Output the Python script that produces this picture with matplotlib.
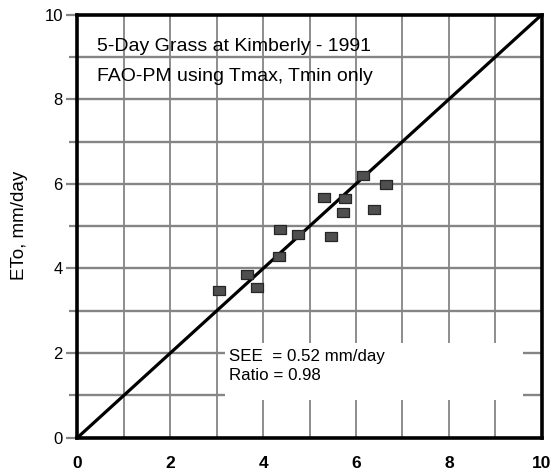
import matplotlib
matplotlib.use("Agg")
import matplotlib.pyplot as plt
import numpy as np
from matplotlib.patches import Rectangle

# ── Data ──
ETO_X = [3.05, 3.66, 3.86, 4.34, 4.36, 4.75, 5.47, 5.31, 5.77, 5.71, 6.39, 6.16, 6.64]
ETO_Y = [3.49, 3.87, 3.57, 4.30, 4.93, 4.82, 4.78, 5.70, 5.66, 5.33, 5.40, 6.21, 5.99]
ONE_TO_ONE = [0, 10]
X_TICKS = [0, 2, 4, 6, 8, 10]
Y_TICKS = [0, 2, 4, 6, 8, 10]
GRID_STEPS = [1, 2, 3, 4, 5, 6, 7, 8, 9]

TITLE_LINES = ["5-Day Grass at Kimberly - 1991", "FAO-PM using Tmax, Tmin only"]
STAT_LINES = ["SEE  = 0.52 mm/day", "Ratio = 0.98"]
Y_LABEL = "ETo, mm/day"

plt.rcParams["font.family"] = ["Liberation Sans", "DejaVu Sans"]

GRID = "#858585"

fig = plt.figure(figsize=(5.53, 4.76), dpi=100)
ax = fig.add_axes([0.140, 0.0805, 0.8396, 0.8886])
ax.set_xlim(0, 10)
ax.set_ylim(0, 10)

# grid lines (drawn as lines so the stats box can cover part of them)
for v in GRID_STEPS:
    ax.axvline(v, color=GRID, lw=1.3, zorder=1)
    ax.axhline(v, color=GRID, lw=1.7, zorder=1)

# white box behind the statistics
ax.add_patch(Rectangle((3.18, 0.89), 6.42, 1.34, facecolor="white",
                       edgecolor="none", zorder=2))

ax.plot(ONE_TO_ONE, ONE_TO_ONE, color="black", lw=2.3, zorder=3,
        solid_capstyle="butt")

rect = [(-1, -0.72), (1, -0.72), (1, 0.72), (-1, 0.72), (-1, -0.72)]
ax.plot(ETO_X, ETO_Y, linestyle="none", marker=rect, markersize=9,
        markerfacecolor="#4f4f4f", markeredgecolor="#262626",
        markeredgewidth=0.9, zorder=4)

for i, line in enumerate(TITLE_LINES):
    ax.text(0.42, 9.24 - 0.71 * i, line, fontsize=14, ha="left", va="center",
            zorder=5)
for i, line in enumerate(STAT_LINES):
    ax.text(3.26, 1.93 - 0.47 * i, line, fontsize=12.2, ha="left", va="center",
            zorder=5)

for side in ["left", "right", "top", "bottom"]:
    ax.spines[side].set_linewidth(2.6)
    ax.spines[side].set_color("black")
    ax.spines[side].set_zorder(6)

# ticks
ax.set_xticks(X_TICKS)
ax.set_xticklabels([str(t) for t in X_TICKS], fontsize=12.5, fontweight="bold")
ax.set_xticks([0, 10], minor=True)
ax.tick_params(axis="x", which="major", length=0, pad=13)
ax.tick_params(axis="x", which="minor", length=6, width=1.4, color=GRID,
               direction="out")

ax.set_yticks(Y_TICKS)
ax.set_yticklabels([str(t) for t in Y_TICKS], fontsize=12)
ax.set_yticks([1, 3, 5, 7, 9], minor=True)
ax.tick_params(axis="y", which="major", length=8, width=1.6, color=GRID,
               direction="out", pad=2.5)
ax.tick_params(axis="y", which="minor", length=6, width=1.6, color=GRID,
               direction="out")

fig.text(20 / 553, 1 - 225 / 476, Y_LABEL, rotation=90, fontsize=13.5,
         ha="center", va="center")

fig.savefig("out.png", dpi=100)
